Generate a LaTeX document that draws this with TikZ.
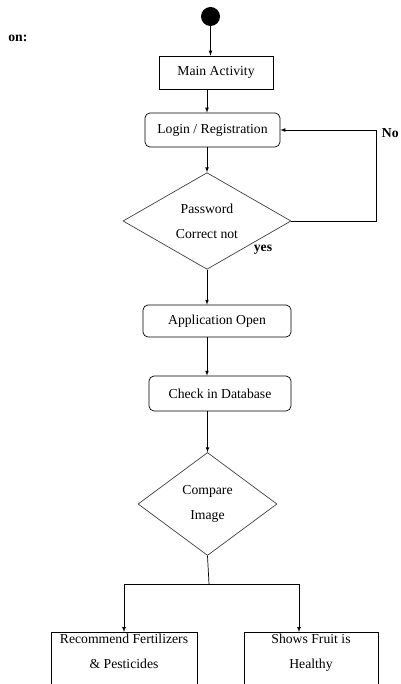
\documentclass[tikz,border=0pt]{standalone}
\usepackage{fontspec}
\setmainfont{Liberation Serif}
\usetikzlibrary{shapes.geometric}
\begin{document}
\begin{tikzpicture}[>=latex,x=1pt,y=-1pt,line width=0.7pt,font=\fontsize{13.7}{25}\selectfont]
        \tikzstyle{every node}=[inner sep=0pt]
        \tikzstyle{act}=[draw,rectangle,align=center]
        \tikzstyle{actr}=[act,rounded corners=5pt]
        \tikzstyle{choice}=[draw=black!75,diamond,align=center]
        \tikzstyle{tag}=[font=\fontsize{13.7}{16}\selectfont\bfseries]
        \clip(0,0)rectangle(400,684);
        \node[fill,circle,minimum size=19pt] (start) at (210.5,16.5) {};
        \node[act,minimum width=114,minimum height=33] (main) at (216,72.5) {Main Activity};
        \node[actr,minimum width=135,minimum height=34] (login) at (212.5,130) {Login / Registration};
        \node[choice,minimum width=168,minimum height=93] (pass) at (207,221) {Password\\Correct not};
        \node[actr,minimum width=148,minimum height=32] (app) at (217,321) {Application Open};
        \node[actr,minimum width=142,minimum height=35] (check) at (220,393.5) {Check in Database};
        \node[choice,minimum width=139,minimum height=103] (cmp) at (207.5,504) {Compare\\Image};
        \node[act,minimum width=146,minimum height=70,anchor=north] (fert) at (124,632) {};
        \node[anchor=north,align=center] (fertlbl) at ([yshift=-1.5pt]fert.north) {Recommend Fertilizers\\\& Pesticides};
        \node[act,minimum width=134,minimum height=70,anchor=north] (fruit) at (311,632) {};
        \node[anchor=north,align=center] (fruitlbl) at ([yshift=-1.5pt]fruit.north) {Shows Fruit is\\Healthy};
        % labels
        \node[tag,anchor=west] (on) at (8,38) {on:};
        \node[tag,anchor=east] (no) at (399,133) {No};
        \node[tag] (yes) at (263,250) {yes};
        % flow
        \draw[->](start)--(start |- main.north);
        \draw[->](main.south -| pass)--(pass |- login.north);
        \draw[->](login.south -| pass)--(pass.north);
        \draw[->](pass.south)--(pass.south |- app.north);
        \draw[->](app.south -| pass)--(pass |- check.north);
        \draw[->](check.south -| cmp)--(cmp.north);
        \draw[->](pass.east)--++(85,0)|-(login.east);
        \coordinate (split) at (209,584);
        \draw(cmp.south)--(split);
        \draw[->](split)-|(fert.north);
        \draw[->](split)-|([xshift=-12pt]fruit.north);
\end{tikzpicture}
\end{document}
